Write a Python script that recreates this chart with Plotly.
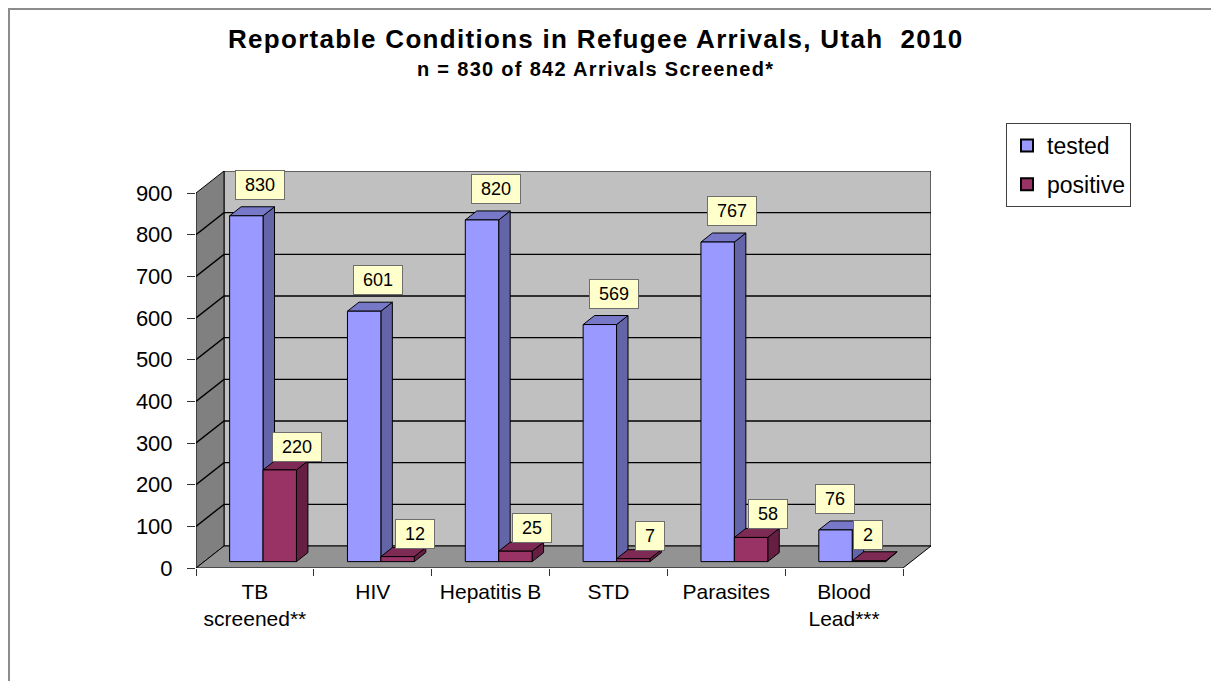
import plotly.graph_objects as go

# ---------------- data ----------------
categories = ["TB<br>screened**", "HIV", "Hepatitis B", "STD", "Parasites", "Blood<br>Lead***"]
tested = [830, 601, 820, 569, 767, 76]
positive = [220, 12, 25, 7, 58, 2]
series_names = ["tested", "positive"]
y_tick_values = [0, 100, 200, 300, 400, 500, 600, 700, 800, 900]
title_text = "Reportable Conditions in Refugee Arrivals, Utah  2010"
subtitle_text = "n = 830 of 842 Arrivals Screened*"

# ---------------- styles / geometry ----------------
FIG_W, FIG_H = 1219, 681
PAGE_OFF = 8                      # page body margin of the html page
# target screen positions (pixels) of the chart box
SCR_L, SCR_R, SCR_T, SCR_B = 196, 931, 171, 568
M_L = SCR_L - PAGE_OFF
M_T = SCR_T - PAGE_OFF
M_R = FIG_W - (SCR_R - PAGE_OFF)
M_B = FIG_H - (SCR_B - PAGE_OFF)
PLOT_W = FIG_W - M_L - M_R
PLOT_H = FIG_H - M_T - M_B
FONT = "Liberation Sans, Arial, sans-serif"

DEPTH_PX_X, DEPTH_PX_Y = 28, 22          # 3-D depth of the chart box in pixels
Y_MAX_TICK = y_tick_values[-1]
n_cat = len(categories)
cat_px = (PLOT_W - DEPTH_PX_X) / n_cat
DX = DEPTH_PX_X / cat_px                  # depth in category units
ppu = (PLOT_H - DEPTH_PX_Y) / Y_MAX_TICK  # pixels per value unit
DY = DEPTH_PX_Y / ppu                     # depth in value units
X0, X1 = -0.5, n_cat - 0.5

BAR_W = 0.2835
F_FRONT, F_BACK = 0.29, 0.70

colors = {
    "tested": {"front": "#9999FF", "side": "#6464A8", "top": "#7878C8"},
    "positive": {"front": "#993366", "side": "#661F42", "top": "#7D2A54"},
}
WALL = "#C0C0C0"
SIDE_WALL = "#808080"
FLOOR = "#939393"

label_shift = {"tested": (14, 31), "positive": (17, 23)}
label_nudge_last = {"tested": (-15, 0), "positive": (-18, 3)}

fig = go.Figure()


def poly(xs, ys, fill, width=1.0):
    fig.add_trace(go.Scatter(
        x=list(xs) + [xs[0]], y=list(ys) + [ys[0]], mode="lines", fill="toself",
        fillcolor=fill, line=dict(color="black", width=width),
        hoverinfo="skip", showlegend=False))


def line(xs, ys, width=1.4):
    fig.add_trace(go.Scatter(
        x=xs, y=ys, mode="lines", line=dict(color="black", width=width),
        hoverinfo="skip", showlegend=False))


# back wall
poly([X0 + DX, X1 + DX, X1 + DX, X0 + DX], [DY, DY, Y_MAX_TICK + DY, Y_MAX_TICK + DY], WALL)
# left wall
poly([X0, X0 + DX, X0 + DX, X0], [0, DY, Y_MAX_TICK + DY, Y_MAX_TICK], SIDE_WALL)
# floor
poly([X0, X1, X1 + DX, X0 + DX], [0, 0, DY, DY], FLOOR)

# gridlines on walls
for v in y_tick_values[1:-1]:
    line([X0, X0 + DX, X1 + DX], [v, v + DY, v + DY])


def bar3d(xl, v, c):
    xr = xl + BAR_W
    fx0, fx1 = xl + F_FRONT * DX, xr + F_FRONT * DX
    bx0, bx1 = xl + F_BACK * DX, xr + F_BACK * DX
    fy0, by0 = F_FRONT * DY, F_BACK * DY
    # side
    poly([fx1, bx1, bx1, fx1], [fy0, by0, by0 + v, fy0 + v], c["side"])
    # top
    poly([fx0, fx1, bx1, bx0], [fy0 + v, fy0 + v, by0 + v, by0 + v], c["top"])
    # front
    poly([fx0, fx1, fx1, fx0], [fy0, fy0, fy0 + v, fy0 + v], c["front"])
    return (fx0 + fx1) / 2, fy0 + v


annotations = []
for i in range(n_cat):
    for name, vals, xl in (("tested", tested, i - BAR_W), ("positive", positive, i)):
        cx, cy = bar3d(xl, vals[i], colors[name])
        sx, sy = label_shift[name]
        if i == n_cat - 1:
            sx += label_nudge_last[name][0]
            sy += label_nudge_last[name][1]
        annotations.append(dict(
            x=cx, y=cy, xref="x", yref="y", text="\u00a0" + str(vals[i]) + "\u00a0",
            showarrow=False, xshift=sx, yshift=sy,
            font=dict(family=FONT, size=18, color="black"),
            bgcolor="#FFFFCC", bordercolor="#6E6E6E", borderwidth=1, borderpad=4))

# legend entries
for name in series_names:
    fig.add_trace(go.Scatter(
        x=[None], y=[None], mode="markers", name=name, legendgroup=name,
        marker=dict(symbol="square", size=11, color=colors[name]["front"],
                    line=dict(color="black", width=2))))


def px_x(px):
    """screen pixel x -> paper coordinate"""
    return (px - PAGE_OFF - M_L) / PLOT_W


def px_y(py):
    """screen pixel y -> paper coordinate"""
    return (FIG_H - M_B - (py - PAGE_OFF)) / PLOT_H


annotations.append(dict(
    x=px_x(595), y=px_y(39), xref="paper", yref="paper",
    text='<b><span style="letter-spacing:1.3px">' + title_text + "</span></b>",
    showarrow=False, font=dict(family=FONT, size=26, color="black"),
    xanchor="center", yanchor="middle"))
annotations.append(dict(
    x=px_x(595), y=px_y(69), xref="paper", yref="paper",
    text='<b><span style="letter-spacing:1.3px">' + subtitle_text + "</span></b>",
    showarrow=False, font=dict(family=FONT, size=20, color="black"),
    xanchor="center", yanchor="middle"))

fig.update_layout(
    width=FIG_W, height=FIG_H,
    margin=dict(l=M_L, r=M_R, t=M_T, b=M_B, pad=0),
    paper_bgcolor="white", plot_bgcolor="white",
    font=dict(family=FONT, color="black"),
    annotations=annotations,
    showlegend=True,
    legend=dict(
        x=px_x(1006), y=px_y(123), xanchor="left", yanchor="top",
        bordercolor="#404040", borderwidth=1, bgcolor="white",
        font=dict(family=FONT, size=23, color="black"),
        tracegroupgap=6, itemsizing="constant"),
    shapes=[dict(type="rect", xref="paper", yref="paper",
                 x0=px_x(PAGE_OFF + 1), y0=px_y(FIG_H + 40), x1=px_x(FIG_W + 40), y1=px_y(PAGE_OFF + 1),
                 line=dict(color="#8C8C8C", width=2), fillcolor="rgba(0,0,0,0)", layer="below")],
    xaxis=dict(
        range=[X0, X1 + DX], showgrid=False, zeroline=False, showline=False,
        tickmode="array", tickvals=list(range(n_cat)), ticktext=categories, ticks="",
        ticklabelstandoff=9,
        tickfont=dict(family=FONT, size=21, color="black"),
        minor=dict(tickmode="array", tickvals=[k - 0.5 for k in range(n_cat + 1)],
                   ticks="outside", ticklen=7, tickcolor="#333333", tickwidth=1, showgrid=False),
        fixedrange=True),
    yaxis=dict(
        range=[0, Y_MAX_TICK + DY], showgrid=False, zeroline=False, showline=False,
        tickmode="array", tickvals=y_tick_values, ticks="outside", ticklen=8,
        tickcolor="#333333", tickwidth=1, ticklabelstandoff=10,
        tickfont=dict(family=FONT, size=22, color="black"), fixedrange=True),
)

fig.write_html("out.html")
